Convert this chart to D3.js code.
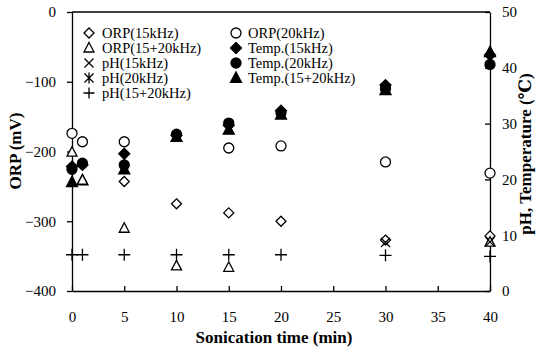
<!DOCTYPE html>
<html lang="en">
<head>
<meta charset="utf-8">
<title>ORP, pH and temperature vs sonication time</title>
<script src="https://cdn.jsdelivr.net/npm/d3@7"></script>
<style>
  body { margin:0; background:#fff; }
  svg text { font-family:"Liberation Serif","DejaVu Serif",serif !important; }
</style>
</head>
<body>
<div id="chart"></div>
<script>
// values: [time (min), value]
var orp15   = [[5,-243],[10,-275],[15,-288],[20,-300],[30,-327],[40,-321]];
var orp20   = [[0,-174],[1,-186],[5,-186],[15,-195],[20,-192],[30,-215],[40,-231]];
var orp1520 = [[0,-201],[1,-241],[5,-310],[10,-364],[15,-366],[40,-330]];
var temp15   = [[0,22.3],[1,22.6],[5,24.6],[10,27.9],[15,29.7],[20,32.3],[30,36.9],[40,42.3]];
var temp20   = [[0,21.8],[1,22.9],[5,22.6],[10,28.1],[15,30.1],[20,32.0],[30,36.3],[40,40.6]];
var temp1520 = [[0,19.5],[1,19.8],[5,21.8],[10,27.6],[15,28.9],[20,31.6],[30,36.0],[40,42.8]];
var ph15   = [[30,8.7],[40,8.8]];
var ph20   = [];
var ph1520 = [[0,6.5],[1,6.5],[5,6.5],[10,6.5],[15,6.5],[20,6.5],[30,6.4],[40,6.2]];

var xTicks = [0,5,10,15,20,25,30,35,40];
var leftTicks = [0,-100,-200,-300,-400];
var rightTicks = [0,10,20,30,40,50];

var W = 540, H = 353;
var m = {left:72, right:50, top:12, bottom:62};

var svg = d3.select("#chart").append("svg").attr("width",W).attr("height",H);
svg.append("rect").attr("width",W).attr("height",H).attr("fill","#fff");

var x = d3.scaleLinear().domain([0,40]).range([m.left, W-m.right]);
var yL = d3.scaleLinear().domain([-400,0]).range([H-m.bottom, m.top]);
var yR = d3.scaleLinear().domain([0,50]).range([H-m.bottom, m.top]);

// axes
var gx = svg.append("g").attr("transform","translate(0,"+(H-m.bottom)+")")
  .call(d3.axisBottom(x).tickValues(xTicks).tickSizeInner(-5).tickSizeOuter(0).tickPadding(20));
var gl = svg.append("g").attr("transform","translate("+m.left+",0)")
  .call(d3.axisLeft(yL).tickValues(leftTicks).tickSizeInner(5).tickSizeOuter(0).tickPadding(11));
var gr = svg.append("g").attr("transform","translate("+(W-m.right)+",0)")
  .call(d3.axisRight(yR).tickValues(rightTicks).tickSizeInner(-5).tickSizeOuter(0).tickPadding(12));
[gx,gl,gr].forEach(function(g){
  g.attr("font-family",null);
  g.selectAll("path,line").attr("stroke","#000").attr("stroke-width",1.3);
  g.selectAll("text").attr("font-size",15).attr("fill","#000");
});
// top frame line
svg.append("line").attr("x1",x(0)).attr("x2",x(40)).attr("y1",yL(0)).attr("y2",yL(0))
  .attr("stroke","#000").attr("stroke-width",1.3);

// axis titles
svg.append("text").attr("x",274).attr("y",343).attr("text-anchor","middle")
  .attr("font-size",17).attr("font-weight","bold").text("Sonication time (min)");
svg.append("text").attr("transform","translate(21,151) rotate(-90)").attr("text-anchor","middle")
  .attr("font-size",17).attr("font-weight","bold").text("ORP (mV)");
svg.append("text").attr("transform","translate(531,154) rotate(-90)").attr("text-anchor","middle")
  .attr("font-size",17).attr("font-weight","bold").text("pH, Temperature (\u2103)");

// marker shapes
function shape(type, r){
  switch(type){
    case "diamond": return "M0,"+(-r)+"L"+r+",0L0,"+r+"L"+(-r)+",0Z";
    case "triangle": return "M0,"+(-r*1.1)+"L"+(r)+","+(r*0.8)+"L"+(-r)+","+(r*0.8)+"Z";
    case "circle": return d3.symbol(d3.symbolCircle, Math.PI*r*r)();
    case "plus": return "M"+(-r)+",0H"+r+"M0,"+(-r)+"V"+r;
    case "cross": return "M"+(-r)+","+(-r)+"L"+r+","+r+"M"+r+","+(-r)+"L"+(-r)+","+r;
    case "star": return "M"+(-r)+","+(-r)+"L"+r+","+r+"M"+r+","+(-r)+"L"+(-r)+","+r+"M0,"+(-r*1.2)+"V"+(r*1.2);
  }
}

var series = [
  {name:"Temp.(15kHz)", data:temp15, type:"diamond", fill:"#000", r:5.5, axis:yR},
  {name:"Temp.(20kHz)", data:temp20, type:"circle", fill:"#000", r:5, axis:yR},
  {name:"Temp.(15+20kHz)", data:temp1520, type:"triangle", fill:"#000", r:5.5, axis:yR},
  {name:"ORP(15kHz)", data:orp15, type:"diamond", fill:"#fff", r:5, axis:yL},
  {name:"ORP(20kHz)", data:orp20, type:"circle", fill:"#fff", r:5, axis:yL},
  {name:"ORP(15+20kHz)", data:orp1520, type:"triangle", fill:"#fff", r:5, axis:yL},
  {name:"pH(15kHz)", data:ph15, type:"cross", fill:"none", r:4.5, axis:yR},
  {name:"pH(20kHz)", data:ph20, type:"star", fill:"none", r:4.5, axis:yR},
  {name:"pH(15+20kHz)", data:ph1520, type:"plus", fill:"none", r:6, axis:yR}
];

series.forEach(function(s){
  svg.append("g").selectAll("path").data(s.data).enter().append("path")
    .attr("transform",function(d){ return "translate("+x(d[0])+","+s.axis(d[1])+")"; })
    .attr("d",shape(s.type,s.r))
    .attr("fill",s.fill).attr("stroke","#000").attr("stroke-width",1.3);
});

// legend, two columns
var legendLeft = ["ORP(15kHz)","ORP(15+20kHz)","pH(15kHz)","pH(20kHz)","pH(15+20kHz)"];
var legendRight = ["ORP(20kHz)","Temp.(15kHz)","Temp.(20kHz)","Temp.(15+20kHz)"];
function legend(names, sx, tx){
  names.forEach(function(n,i){
    var s = series.find(function(d){ return d.name===n; });
    var yy = 33 + i*15;
    svg.append("path").attr("transform","translate("+sx+","+yy+")")
      .attr("d",shape(s.type, s.type==="plus"?5.5:s.r))
      .attr("fill",s.fill).attr("stroke","#000").attr("stroke-width",1.3);
    svg.append("text").attr("x",tx).attr("y",yy+5).attr("font-size",14.5).text(n);
  });
}
legend(legendLeft, 89, 102);
legend(legendRight, 236, 248);
</script>
</body>
</html>
